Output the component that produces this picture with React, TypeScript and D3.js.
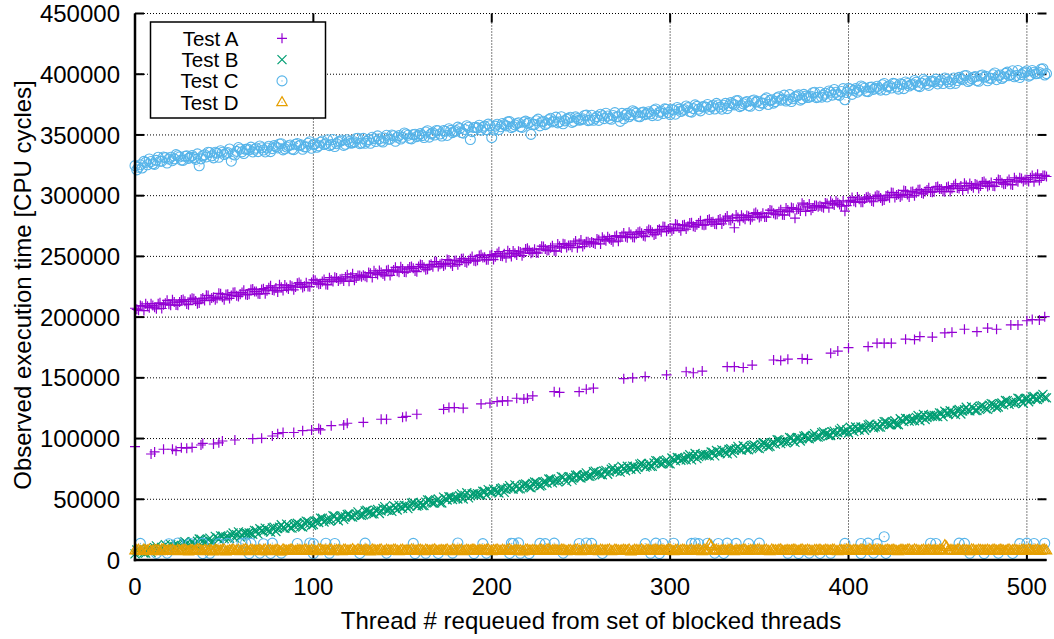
import React from "react";
import * as d3 from "d3";

const width = 1054,
  height = 639;
const plot = { left: 135, right: 1046.5, top: 13.5, bottom: 560 };
const font = "'Liberation Sans', Arial, Helvetica, sans-serif";

const seriesNames = ["Test A", "Test B", "Test C", "Test D"];
const seriesColors = ["#9400d3", "#009e73", "#56b4e9", "#e69f00"];
const xTicks = [0, 100, 200, 300, 400, 500];
const yTicks = [0, 50000, 100000, 150000, 200000, 250000, 300000, 350000, 400000, 450000];

// dense runs: even threads 0, 2 ... 510 and odd threads 1, 3 ... 511
const evenThreads = d3.range(0, 512, 2);
const oddThreads = d3.range(1, 512, 2);

// values below are in thousands of CPU cycles
const testAUpper = [
  207.3, 205.6, 209.0, 210.9, 207.8, 209.5, 206.8, 211.8, 210.2, 213.8, 209.8, 212.4, 209.8, 214.0, 213.0, 210.2,
  215.6, 213.2, 211.7, 215.7, 218.0, 213.8, 216.4, 215.5, 219.2, 214.2, 218.9, 217.7, 220.4, 217.0, 220.2, 218.6,
  218.8, 223.2, 221.1, 219.1, 223.4, 221.7, 225.8, 222.0, 220.7, 224.6, 226.4, 223.1, 225.5, 224.7, 228.5, 224.4,
  228.2, 225.1, 230.7, 228.3, 227.3, 231.0, 226.6, 230.6, 232.8, 229.7, 231.5, 233.1, 229.5, 235.7, 232.3, 234.3,
  234.5, 232.8, 236.2, 238.1, 235.0, 236.7, 234.0, 239.0, 237.4, 241.0, 237.0, 239.6, 237.0, 241.2, 240.2, 237.4,
  243.4, 241.0, 239.5, 243.5, 245.8, 241.6, 244.2, 243.3, 247.0, 242.0, 246.7, 245.5, 248.2, 244.8, 248.0, 246.4,
  246.9, 251.3, 249.2, 247.2, 251.5, 249.8, 253.9, 250.1, 248.8, 252.7, 254.5, 251.2, 253.6, 252.8, 256.6, 252.5,
  255.9, 252.8, 258.4, 256.0, 255.0, 258.7, 254.3, 258.3, 260.5, 257.4, 259.2, 260.8, 257.2, 263.4, 260.0, 262.0,
  261.9, 260.3, 263.8, 265.8, 262.8, 264.6, 262.0, 267.1, 265.6, 269.3, 265.4, 268.1, 265.6, 269.9, 269.0, 266.3,
  272.1, 269.8, 268.4, 272.3, 274.7, 270.6, 273.3, 272.5, 276.1, 271.2, 276.0, 274.9, 277.7, 274.2, 277.5, 276.0,
  276.1, 280.5, 278.5, 276.4, 280.8, 279.1, 283.2, 279.5, 273.6, 282.1, 283.9, 280.6, 283.1, 282.2, 286.1, 282.0,
  285.5, 282.4, 288.1, 285.6, 284.7, 288.4, 284.0, 288.1, 290.2, 281.5, 289.0, 293.8, 287.1, 293.2, 289.9, 291.9,
  291.8, 290.1, 293.6, 295.4, 292.4, 294.1, 291.4, 287.2, 294.8, 298.5, 294.5, 297.1, 294.6, 298.7, 297.8, 295.0,
  300.4, 298.0, 296.5, 300.4, 302.7, 298.5, 301.1, 300.2, 303.8, 298.8, 303.5, 302.3, 305.0, 301.5, 304.7, 303.1,
  303.3, 307.6, 305.5, 303.3, 307.5, 305.8, 309.8, 305.9, 304.4, 308.3, 310.0, 306.6, 309.0, 308.0, 311.7, 307.6,
  310.9, 307.7, 313.3, 310.7, 309.6, 313.3, 308.8, 312.7, 314.7, 311.6, 313.3, 314.8, 311.4, 317.7, 314.5, 316.7,
];
const testAUpperOdd = [
  206.4, 209.5, 205.4, 209.0, 211.1, 208.2, 211.1, 207.1, 211.5, 210.6, 214.2, 209.9, 212.4, 214.4, 210.8, 214.5,
  215.1, 211.1, 215.0, 213.6, 217.8, 215.8, 214.3, 219.6, 216.4, 218.6, 215.4, 220.2, 217.6, 218.9, 222.1, 218.3,
  222.7, 221.0, 219.2, 222.7, 219.3, 224.2, 222.3, 224.0, 226.6, 221.9, 224.4, 226.2, 222.5, 227.9, 226.8, 225.4,
  225.2, 228.4, 230.4, 227.1, 229.4, 226.9, 232.5, 229.3, 232.3, 231.2, 229.8, 234.9, 233.1, 230.4, 234.3, 233.3,
  233.6, 236.7, 232.6, 236.2, 238.3, 235.4, 238.3, 234.3, 238.7, 237.8, 241.4, 237.1, 239.6, 241.6, 238.0, 241.7,
  242.9, 238.9, 242.8, 241.4, 245.6, 243.6, 242.1, 247.4, 244.2, 246.4, 243.2, 248.0, 245.4, 246.7, 249.9, 246.1,
  250.8, 249.1, 247.3, 250.8, 247.4, 252.3, 250.4, 252.1, 254.7, 250.0, 252.5, 254.3, 250.6, 256.0, 254.9, 253.5,
  252.9, 256.1, 258.1, 254.8, 257.1, 254.6, 260.2, 257.0, 260.0, 258.9, 257.5, 262.6, 260.8, 258.1, 262.0, 261.0,
  261.1, 264.3, 260.3, 264.0, 266.2, 263.4, 266.4, 262.5, 267.0, 266.2, 269.9, 265.7, 268.3, 270.4, 266.9, 270.7,
  271.6, 267.7, 271.7, 270.2, 274.5, 272.6, 271.2, 276.6, 273.3, 275.6, 272.5, 277.4, 274.9, 276.1, 279.4, 275.7,
  280.0, 278.3, 276.6, 280.0, 276.7, 281.6, 279.7, 281.5, 284.0, 279.4, 281.9, 283.7, 280.1, 285.4, 284.4, 283.0,
  282.5, 285.7, 287.8, 284.4, 286.8, 284.3, 289.9, 286.8, 289.7, 288.7, 287.3, 292.4, 290.7, 287.9, 291.9, 290.9,
  290.9, 294.0, 290.0, 293.5, 295.7, 292.8, 295.7, 291.8, 296.1, 295.3, 298.9, 294.6, 297.2, 299.1, 295.6, 299.3,
  299.9, 295.9, 299.8, 298.3, 302.5, 300.5, 299.0, 304.3, 301.0, 303.2, 300.0, 304.8, 302.2, 303.4, 306.6, 302.8,
  307.2, 305.4, 303.6, 306.9, 303.4, 308.3, 306.3, 307.9, 310.3, 305.6, 308.0, 309.7, 306.0, 311.2, 310.0, 308.6,
  307.9, 311.0, 313.0, 309.5, 311.7, 309.2, 314.7, 311.4, 314.2, 313.1, 311.6, 316.6, 315.1, 312.5, 316.6, 315.8,
];

// [thread, kcycles]
const testALower = [
  [0, 93.3], [9, 87.3], [11, 89.0], [16, 91.2], [21, 91.2], [23, 90.0], [26, 92.5], [29, 92.0], [32, 92.7],
  [37, 94.7], [38, 96.0], [44, 95.5], [47, 96.5], [49, 98.0], [56, 98.8], [66, 99.9], [71, 100.2], [77, 102.1],
  [80, 104.0], [83, 105.0], [89, 105.0], [94, 106.5], [99, 107.0], [103, 108.3], [104, 107.2], [110, 110.6],
  [117, 111.2], [119, 112.6], [128, 113.4], [138, 115.9], [141, 115.9], [150, 117.5], [152, 118.2], [158, 120.0],
  [173, 124.1], [176, 125.5], [179, 125.5], [184, 125.0], [194, 128.5], [199, 129.1], [203, 130.4], [206, 131.0],
  [209, 131.0], [214, 133.2], [218, 132.5], [220, 133.2], [223, 135.1], [235, 138.6], [238, 138.0], [249, 138.6],
  [253, 140.6], [257, 141.5], [274, 149.3], [279, 150.0], [286, 151.0], [298, 152.4], [309, 155.0], [313, 154.2],
  [318, 155.6], [332, 159.2], [336, 159.2], [341, 158.5], [346, 160.5], [358, 164.7], [362, 164.2], [366, 165.4],
  [374, 165.8], [377, 165.2], [390, 170.3], [394, 172.0], [400, 174.8], [411, 175.7], [416, 178.5], [420, 178.5],
  [424, 178.5], [432, 181.8], [437, 181.5], [440, 184.0], [447, 183.6], [454, 187.0], [458, 187.5], [465, 190.0],
  [472, 188.0], [478, 191.0], [483, 190.0], [491, 193.6], [495, 193.6], [500, 197.0], [503, 198.0], [507, 197.7],
  [510, 200.4],
];

const testB = [
  5.0, 8.7, 7.2, 5.7, 9.3, 8.1, 11.6, 8.7, 7.8, 11.1, 12.7, 10.2, 12.3, 11.9, 15.1, 12.0,
  15.0, 12.7, 17.3, 15.5, 14.9, 18.0, 14.7, 18.1, 19.9, 17.6, 19.3, 20.7, 18.0, 23.2, 20.6, 22.4,
  22.3, 21.2, 24.1, 25.7, 23.4, 24.9, 22.9, 27.1, 25.9, 29.0, 26.0, 28.2, 26.3, 29.9, 29.3, 27.2,
  32.0, 30.2, 29.2, 32.5, 34.5, 31.3, 33.6, 33.1, 36.1, 32.3, 36.2, 35.5, 37.8, 35.3, 38.0, 36.9,
  37.3, 41.0, 39.5, 38.0, 41.6, 40.4, 43.9, 41.0, 40.1, 43.4, 45.0, 42.5, 44.6, 44.2, 47.4, 44.3,
  47.2, 44.9, 49.5, 47.7, 47.1, 50.2, 46.9, 50.3, 52.1, 49.8, 51.5, 52.9, 50.2, 55.4, 52.8, 54.6,
  54.6, 53.5, 56.4, 58.0, 55.7, 57.2, 55.2, 59.4, 58.2, 61.3, 58.3, 60.5, 58.6, 62.2, 61.6, 59.5,
  64.2, 62.4, 61.4, 64.7, 66.7, 63.5, 65.8, 65.3, 68.3, 64.5, 68.4, 67.7, 70.0, 67.5, 70.2, 69.1,
  69.5, 73.2, 71.7, 70.2, 73.8, 72.6, 76.1, 73.2, 72.3, 75.6, 77.2, 74.7, 76.8, 76.4, 79.6, 76.5,
  79.5, 77.2, 81.8, 80.0, 79.4, 82.5, 79.2, 82.6, 84.4, 82.1, 83.8, 85.2, 82.5, 87.7, 85.1, 86.9,
  86.8, 85.7, 88.6, 90.2, 87.9, 89.4, 87.4, 91.6, 90.4, 93.5, 90.5, 92.7, 90.8, 94.4, 93.8, 91.7,
  96.5, 94.7, 93.7, 97.0, 99.0, 95.8, 98.1, 97.6, 100.6, 96.8, 100.7, 100.0, 102.3, 99.8, 102.5, 101.4,
  101.8, 105.5, 104.0, 102.5, 106.1, 104.9, 108.4, 105.5, 104.6, 107.9, 109.5, 107.0, 109.1, 108.7, 111.9, 108.8,
  111.7, 109.4, 114.0, 112.2, 111.6, 114.7, 111.4, 114.8, 116.6, 114.3, 116.0, 117.4, 114.7, 119.9, 117.3, 119.1,
  119.1, 118.0, 120.9, 122.5, 120.2, 121.7, 119.7, 123.9, 122.7, 125.8, 122.8, 125.0, 123.1, 126.7, 126.1, 124.0,
  128.8, 127.0, 126.0, 129.3, 131.3, 128.1, 130.4, 129.9, 132.9, 129.1, 133.0, 132.3, 134.6, 132.1, 134.8, 133.7,
];
const testBOdd = [
  8.2, 7.0, 5.8, 8.7, 6.1, 10.2, 8.9, 10.4, 12.6, 9.0, 11.2, 12.8, 10.1, 14.5, 13.8, 12.8,
  12.6, 15.4, 17.1, 14.6, 16.6, 14.8, 19.5, 17.1, 19.6, 18.9, 17.9, 22.2, 20.9, 18.9, 22.3, 21.7,
  21.8, 24.4, 21.3, 24.3, 26.2, 24.0, 26.5, 23.5, 27.1, 26.6, 29.6, 26.4, 28.6, 30.3, 27.6, 30.7,
  31.6, 28.6, 31.9, 30.9, 34.4, 33.0, 32.0, 36.4, 33.9, 35.9, 33.5, 37.5, 35.6, 36.8, 39.6, 36.7,
  40.4, 39.2, 38.0, 40.9, 38.3, 42.4, 41.1, 42.6, 44.8, 41.2, 43.4, 45.0, 42.3, 46.8, 46.1, 45.1,
  44.9, 47.7, 49.4, 46.9, 48.9, 47.1, 51.8, 49.4, 51.9, 51.2, 50.2, 54.5, 53.2, 51.2, 54.5, 53.9,
  54.0, 56.6, 53.5, 56.5, 58.4, 56.2, 58.7, 55.7, 59.3, 58.8, 61.8, 58.6, 60.8, 62.6, 59.9, 63.0,
  63.9, 60.9, 64.2, 63.2, 66.7, 65.3, 64.3, 68.7, 66.2, 68.2, 65.8, 69.8, 67.9, 69.0, 71.8, 68.9,
  72.7, 71.5, 70.3, 73.2, 70.6, 74.7, 73.4, 74.9, 77.1, 73.5, 75.7, 77.3, 74.6, 79.0, 78.3, 77.3,
  77.1, 79.9, 81.6, 79.1, 81.1, 79.3, 84.0, 81.6, 84.1, 83.4, 82.4, 86.7, 85.4, 83.5, 86.8, 86.2,
  86.3, 88.9, 85.8, 88.8, 90.7, 88.5, 91.0, 88.0, 91.6, 91.1, 94.1, 90.9, 93.1, 94.8, 92.1, 95.2,
  96.1, 93.1, 96.4, 95.4, 98.9, 97.5, 96.5, 100.9, 98.4, 100.4, 98.0, 102.0, 100.1, 101.3, 104.1, 101.2,
  104.9, 103.7, 102.5, 105.4, 102.8, 106.9, 105.6, 107.1, 109.3, 105.7, 107.9, 109.5, 106.8, 111.3, 110.6, 109.6,
  109.4, 112.2, 113.9, 111.4, 113.4, 111.6, 116.3, 113.9, 116.4, 115.7, 114.7, 119.0, 117.7, 115.7, 119.0, 118.4,
  118.5, 121.1, 118.0, 121.0, 122.9, 120.7, 123.2, 120.2, 123.8, 123.3, 126.3, 123.1, 125.3, 127.1, 124.4, 127.5,
  128.4, 125.4, 128.7, 127.7, 131.2, 129.8, 128.8, 133.2, 130.7, 132.7, 130.3, 134.3, 132.4, 133.6, 136.4, 133.5,
];

const testCUpper = [
  324.7, 323.4, 322.8, 327.4, 330.2, 326.3, 329.1, 328.3, 331.9, 326.9, 331.6, 330.3, 332.9, 329.3, 332.4, 330.7,
  333.1, 329.9, 324.6, 332.9, 331.9, 335.5, 331.1, 335.0, 337.0, 333.9, 335.6, 328.4, 333.5, 339.6, 336.1, 338.1,
  337.8, 336.0, 339.2, 340.9, 337.6, 339.2, 336.3, 341.2, 339.3, 342.8, 338.6, 341.1, 338.3, 342.3, 341.1, 338.2,
  340.2, 344.4, 342.1, 339.9, 344.0, 342.1, 346.0, 342.0, 340.5, 344.2, 345.8, 342.3, 344.5, 343.5, 347.1, 342.8,
  347.2, 344.7, 343.1, 346.9, 349.2, 344.9, 347.4, 346.4, 349.9, 344.8, 349.4, 348.1, 350.8, 347.2, 350.3, 348.6,
  351.1, 347.9, 353.5, 350.9, 349.9, 353.5, 349.1, 353.0, 355.1, 351.9, 353.6, 355.2, 351.5, 357.6, 346.2, 356.1,
  355.8, 354.0, 357.3, 358.9, 347.8, 357.3, 354.5, 359.4, 357.5, 361.0, 356.9, 359.4, 356.7, 360.6, 359.5, 350.5,
  358.7, 363.0, 360.7, 358.5, 362.6, 360.8, 364.7, 360.8, 359.2, 363.0, 364.6, 361.2, 363.4, 362.4, 366.0, 361.8,
  366.2, 363.7, 362.0, 365.8, 367.9, 363.6, 366.0, 365.0, 361.2, 363.3, 367.8, 366.5, 369.0, 365.4, 368.4, 366.7,
  369.1, 365.9, 371.4, 368.7, 367.6, 371.2, 366.7, 370.6, 372.6, 369.3, 371.0, 372.5, 368.8, 374.8, 371.2, 373.1,
  372.8, 371.0, 374.3, 376.0, 372.9, 374.5, 371.7, 376.6, 374.8, 378.3, 374.2, 376.7, 374.1, 378.1, 377.0, 374.1,
  376.2, 380.5, 378.4, 376.2, 380.5, 378.7, 382.8, 378.9, 377.5, 381.3, 383.0, 379.7, 382.0, 381.1, 384.8, 380.7,
  385.2, 382.8, 381.3, 385.1, 387.4, 383.2, 385.8, 379.0, 388.4, 383.4, 388.1, 386.8, 389.5, 386.0, 389.2, 387.5,
  390.1, 386.9, 392.4, 389.7, 388.6, 392.2, 387.7, 391.6, 393.6, 390.3, 392.0, 393.5, 389.8, 395.8, 392.2, 394.1,
  393.8, 392.0, 395.3, 396.9, 393.7, 395.3, 392.5, 397.4, 395.5, 399.0, 394.9, 397.4, 394.7, 398.7, 397.5, 394.6,
  396.7, 401.0, 398.7, 396.5, 400.7, 398.8, 402.8, 398.9, 397.3, 401.1, 402.8, 399.3, 401.6, 400.6, 404.2, 399.4,
];
const testCUpperOdd = [
  321.2, 325.4, 328.2, 325.4, 328.1, 325.8, 331.6, 328.4, 331.3, 330.2, 328.8, 333.8, 331.9, 329.0, 332.8, 331.7,
  331.4, 334.4, 330.3, 333.7, 335.8, 332.8, 335.7, 331.6, 335.8, 334.9, 338.4, 334.1, 336.5, 338.4, 334.7, 338.4,
  340.0, 338.2, 336.3, 339.5, 336.0, 340.7, 338.7, 340.2, 342.6, 337.7, 340.1, 341.7, 337.9, 343.0, 341.8, 340.2,
  343.1, 339.0, 342.7, 341.0, 345.0, 342.8, 341.2, 346.3, 342.8, 344.8, 341.4, 346.1, 343.3, 344.3, 347.3, 343.4,
  343.1, 346.2, 348.1, 344.6, 346.8, 344.2, 349.7, 346.5, 349.3, 348.1, 346.6, 351.6, 349.7, 346.8, 350.6, 349.6,
  349.4, 352.4, 348.2, 351.7, 353.7, 350.8, 353.6, 349.6, 353.8, 352.8, 356.4, 352.0, 354.5, 356.3, 352.7, 356.3,
  358.0, 356.2, 354.3, 357.6, 354.1, 358.8, 356.8, 358.4, 360.8, 356.0, 358.3, 360.0, 356.2, 361.4, 360.2, 358.6,
  361.7, 357.5, 361.3, 359.6, 363.7, 361.5, 359.9, 365.0, 361.6, 363.6, 360.3, 364.9, 362.2, 363.2, 366.3, 362.3,
  362.1, 365.1, 367.0, 363.4, 365.6, 362.9, 368.4, 365.0, 367.8, 366.5, 365.0, 369.9, 368.0, 365.0, 368.8, 367.6,
  367.4, 370.3, 366.1, 369.5, 371.5, 368.5, 371.2, 367.1, 371.3, 370.3, 373.8, 369.3, 371.7, 373.5, 369.8, 373.4,
  375.1, 373.3, 371.4, 374.7, 371.2, 376.0, 374.0, 375.7, 378.1, 373.3, 375.7, 377.4, 373.6, 378.8, 377.7, 376.2,
  379.2, 375.1, 379.0, 377.4, 381.5, 379.5, 377.9, 383.2, 379.8, 382.0, 378.7, 383.4, 380.8, 381.9, 385.1, 381.2,
  381.1, 384.3, 386.2, 382.8, 385.1, 382.6, 388.1, 384.9, 387.8, 386.7, 385.2, 390.3, 388.5, 385.7, 389.5, 388.5,
  388.3, 391.3, 387.1, 390.5, 392.5, 389.5, 392.2, 388.1, 392.3, 391.3, 394.8, 390.4, 392.7, 394.5, 390.8, 394.4,
  396.0, 394.2, 392.3, 395.6, 392.1, 396.9, 394.8, 396.4, 398.8, 394.0, 396.4, 398.0, 394.2, 399.4, 398.2, 396.7,
  399.6, 395.5, 399.3, 397.6, 401.7, 399.6, 397.9, 403.1, 399.7, 401.8, 398.4, 403.1, 400.4, 401.4, 404.5, 400.5,
];

// [thread, kcycles]
const testCLower = [
  [3, 13.7], [19, 13.4], [24, 14.0], [31, 13.6], [38, 13.9], [47, 13.5], [52, 13.8], [60, 13.6], [62, 14.1],
  [65, 13.7], [72, 13.4], [77, 13.9], [91, 13.6], [98, 14.0], [100, 13.5], [107, 13.8], [112, 13.6], [129, 13.9],
  [156, 13.7], [181, 14.0], [195, 13.5], [211, 13.8], [212, 13.6], [215, 14.1], [227, 13.7], [230, 13.5],
  [235, 13.9], [249, 13.6], [253, 14.0], [256, 13.7], [286, 13.5], [292, 13.9], [296, 13.6], [302, 13.8],
  [312, 13.7], [314, 14.0], [316, 13.5], [321, 13.8], [327, 13.6], [332, 13.9], [337, 13.7], [344, 13.5],
  [350, 13.9], [398, 13.7], [407, 13.6], [411, 13.9], [416, 13.5], [420, 19.2], [446, 13.8], [449, 13.6],
  [462, 13.9], [465, 13.7], [496, 13.5], [500, 13.9], [504, 13.6], [510, 13.8],
  [12, 5.4], [18, 5.6], [38, 5.2], [42, 5.5], [64, 5.3], [70, 5.6], [76, 5.4], [82, 5.7], [100, 5.3],
  [109, 5.5], [126, 5.4], [141, 5.6], [157, 5.3], [163, 5.5], [170, 5.4], [178, 5.7], [190, 5.3], [197, 5.6],
  [210, 5.4], [216, 5.5], [221, 5.3], [240, 5.6], [262, 5.4], [289, 5.5], [294, 5.3], [325, 5.6], [330, 5.4],
  [366, 5.5], [372, 5.3], [378, 5.6], [384, 5.4], [390, 5.5], [407, 5.3], [414, 5.6], [421, 5.4], [468, 5.5],
  [476, 5.3], [484, 5.6], [492, 5.4],
];

const testD = [
  7.8, 8.4, 7.2, 7.9, 8.6, 7.5, 8.1, 7.3, 8.8, 7.6, 8.0, 7.4, 8.3, 7.7, 8.5, 7.1,
  8.2, 7.6, 8.7, 7.3, 7.9, 8.4, 7.0, 8.1, 7.8, 8.6, 7.4, 8.0, 7.5, 8.3, 7.7, 8.9,
  7.2, 8.1, 7.6, 8.5, 7.9, 7.3, 8.2, 7.7, 8.4, 7.1, 8.0, 7.8, 8.6, 7.4, 8.2, 7.5,
  8.3, 7.6, 8.0, 7.2, 8.7, 7.9, 7.4, 8.5, 7.7, 8.1, 7.3, 8.4, 7.8, 8.9, 7.5, 8.0,
  7.6, 8.4, 7.1, 8.2, 7.8, 8.6, 7.4, 8.0, 7.7, 8.3, 7.2, 8.5, 7.9, 7.5, 8.1, 7.6,
  8.4, 7.3, 8.0, 7.8, 8.7, 7.5, 8.2, 7.9, 7.4, 8.6, 7.7, 8.1, 7.2, 8.3, 7.8, 8.5,
  7.5, 8.2, 7.9, 8.6, 7.3, 8.0, 7.7, 8.4, 7.6, 8.8, 7.4, 8.1, 7.9, 7.2, 8.5, 7.8,
  8.0, 7.6, 8.3, 7.4, 8.7, 7.9, 8.1, 7.5, 8.4, 7.2, 8.2, 7.7, 8.6, 7.3, 8.0, 7.8,
  7.7, 8.5, 7.3, 8.1, 7.9, 8.6, 7.4, 8.2, 7.6, 8.3, 7.8, 7.1, 8.4, 7.9, 8.7, 7.5,
  8.1, 7.7, 8.5, 7.4, 8.0, 7.8, 8.6, 7.2, 8.3, 7.9, 8.1, 7.5, 8.4, 7.6, 8.2, 7.3,
  8.0, 13.0, 7.9, 8.4, 7.5, 8.2, 7.7, 8.6, 7.3, 8.0, 7.8, 8.5, 7.4, 8.1, 7.9, 8.3,
  7.6, 8.4, 7.2, 8.0, 7.8, 8.7, 7.5, 8.1, 7.9, 8.3, 7.4, 8.6, 7.7, 8.0, 7.3, 8.2,
  8.5, 7.6, 8.1, 7.8, 8.4, 7.2, 8.0, 7.9, 8.6, 7.5, 8.2, 7.7, 8.3, 7.4, 8.8, 7.9,
  7.7, 8.2, 7.5, 8.5, 7.9, 8.0, 7.3, 8.4, 7.8, 8.6, 7.6, 8.1, 7.4, 8.3, 7.9, 8.0,
  8.2, 7.6, 8.4, 12.2, 7.8, 8.1, 7.5, 8.6, 7.9, 8.0, 7.3, 8.5, 7.7, 8.2, 7.9, 8.4,
  7.6, 8.3, 7.8, 8.1, 7.4, 8.6, 7.9, 8.0, 7.5, 8.4, 7.7, 8.2, 7.9, 8.5, 7.6, 8.3,
];
const testDOdd = [
  8.1, 7.4, 8.6, 7.7, 7.2, 8.3, 7.9, 8.7, 7.5, 8.0, 8.5, 7.3, 7.8, 8.4, 7.6, 8.2,
  7.5, 8.8, 7.9, 8.2, 7.4, 7.7, 8.5, 7.6, 8.3, 7.1, 8.0, 8.6, 7.8, 7.3, 8.4, 7.7,
  8.4, 7.7, 8.0, 7.3, 8.6, 8.2, 7.5, 8.1, 7.2, 8.7, 7.6, 8.3, 7.4, 8.0, 7.9, 8.5,
  7.6, 8.3, 7.4, 8.8, 7.7, 8.1, 8.6, 7.3, 8.2, 7.8, 8.5, 7.5, 8.0, 7.4, 8.7, 7.9,
  8.3, 7.5, 8.6, 7.8, 8.1, 7.3, 8.4, 7.7, 8.5, 7.6, 8.2, 7.4, 8.0, 8.6, 7.7, 8.3,
  7.9, 8.5, 7.6, 8.2, 7.4, 8.0, 7.8, 8.6, 7.3, 8.1, 7.9, 8.4, 7.7, 8.0, 8.5, 7.5,
  8.2, 7.7, 8.4, 7.5, 8.1, 8.6, 7.4, 7.9, 8.3, 7.6, 8.2, 7.8, 7.3, 8.5, 7.7, 8.1,
  7.6, 8.3, 7.8, 8.6, 7.4, 8.2, 7.7, 8.5, 7.9, 8.0, 7.5, 8.4, 7.6, 8.1, 8.7, 7.5,
  8.2, 7.6, 8.4, 7.8, 8.1, 7.3, 8.5, 7.7, 8.0, 7.9, 8.6, 7.4, 8.2, 7.8, 7.5, 8.3,
  7.6, 8.4, 7.9, 8.1, 7.5, 8.7, 7.7, 8.2, 7.4, 8.5, 7.8, 8.0, 7.6, 8.3, 7.9, 8.6,
  7.7, 11.4, 8.3, 7.6, 8.0, 7.8, 8.4, 7.5, 8.2, 7.9, 8.6, 7.4, 8.1, 7.7, 8.5, 7.8,
  8.2, 7.5, 8.6, 7.9, 8.3, 7.4, 8.0, 7.7, 8.5, 7.6, 8.2, 7.8, 8.4, 7.5, 8.1, 7.9,
  7.6, 8.3, 7.8, 8.5, 7.4, 8.1, 7.9, 8.6, 7.7, 8.2, 7.5, 8.4, 7.8, 8.0, 7.6, 8.3,
  8.4, 7.6, 8.1, 7.8, 8.5, 7.4, 8.2, 7.9, 8.3, 7.5, 8.6, 7.7, 8.0, 7.8, 8.4, 7.6,
  7.9, 8.4, 7.6, 10.8, 8.2, 7.7, 8.5, 7.4, 8.1, 7.8, 8.6, 7.5, 8.3, 7.9, 8.0, 7.7,
  8.3, 7.6, 8.5, 7.8, 8.2, 7.5, 8.4, 7.7, 8.1, 7.9, 8.6, 7.6, 8.2, 7.4, 8.5, 7.8,
];

const onThreads = (threads, vals) => vals.map((v, i) => [threads[i], v * 1000]);
const sparse = (pairs) => pairs.map(([t, v]) => [t, v * 1000]);

const seriesPoints = [
  onThreads(evenThreads, testAUpper).concat(onThreads(oddThreads, testAUpperOdd), sparse(testALower)),
  onThreads(evenThreads, testB).concat(onThreads(oddThreads, testBOdd)),
  onThreads(evenThreads, testCUpper).concat(onThreads(oddThreads, testCUpperOdd), sparse(testCLower)),
  onThreads(evenThreads, testD).concat(onThreads(oddThreads, testDOdd)),
];

const markerPaths = [
  "M-5,0H5M0,-5V5",
  "M-4.5,-4.5L4.5,4.5M-4.5,4.5L4.5,-4.5",
  null,
  "M0,-5.6L5.2,3.4L-5.2,3.4Z",
];

function Marker({ kind, x, y }) {
  const color = seriesColors[kind];
  if (kind === 2) {
    return (
      <g transform={`translate(${x},${y})`}>
        <circle r={5} fill="none" stroke={color} strokeWidth={1.1} />
        <circle r={0.6} fill={color} />
      </g>
    );
  }
  return (
    <g transform={`translate(${x},${y})`}>
      <path d={markerPaths[kind]} fill="none" stroke={color} strokeWidth={1.2} />
      {kind === 3 && <circle r={0.6} fill={color} />}
    </g>
  );
}

export default function App() {
  const x = d3.scaleLinear().domain([0, 511]).range([plot.left, plot.right]);
  const y = d3.scaleLinear().domain([0, 450000]).range([plot.bottom, plot.top]);
  const tickLen = 9;

  return (
    <svg
      width={width}
      height={height}
      style={{ position: "absolute", left: 0, top: 0, background: "#fff" }}
      fontFamily={font}
    >
      <rect width={width} height={height} fill="#fff" />

      {/* grid */}
      <g stroke="#000" strokeWidth={1} strokeDasharray="1,2">
        {yTicks.filter(t => t > 0).map(t => (
          <line key={"gy" + t} x1={plot.left} x2={plot.right} y1={y(t)} y2={y(t)} />
        ))}
        {xTicks.filter(t => t > 0).map(t => (
          <line key={"gx" + t} x1={x(t)} x2={x(t)} y1={plot.top} y2={plot.bottom} />
        ))}
      </g>

      {/* ticks, mirrored on top and right */}
      <g stroke="#000" strokeWidth={2}>
        {yTicks.map(t => (
          <g key={"ty" + t}>
            <line x1={plot.left} x2={plot.left + tickLen} y1={y(t)} y2={y(t)} />
            <line x1={plot.right - tickLen} x2={plot.right} y1={y(t)} y2={y(t)} />
          </g>
        ))}
        {xTicks.map(t => (
          <g key={"tx" + t}>
            <line x1={x(t)} x2={x(t)} y1={plot.bottom} y2={plot.bottom - tickLen} />
            <line x1={x(t)} x2={x(t)} y1={plot.top} y2={plot.top + tickLen} />
          </g>
        ))}
      </g>

      {/* points */}
      {seriesPoints.map((pts, k) => (
        <g key={seriesNames[k]}>
          {pts.map((p, i) => (
            <Marker key={i} kind={k} x={x(p[0])} y={y(p[1])} />
          ))}
        </g>
      ))}

      {/* axes */}
      <line x1={plot.left} x2={plot.left} y1={plot.top} y2={plot.bottom + 1.2} stroke="#000" strokeWidth={2.5} />
      <line x1={plot.left - 1.2} x2={plot.right} y1={plot.bottom} y2={plot.bottom} stroke="#000" strokeWidth={2.5} />

      {/* tick labels */}
      <g fontSize={24} fill="#000">
        {yTicks.map(t => (
          <text key={"ly" + t} x={120} y={y(t)} dy="0.36em" textAnchor="end">
            {t}
          </text>
        ))}
        {xTicks.map(t => (
          <text key={"lx" + t} x={x(t)} y={595} textAnchor="middle">
            {t}
          </text>
        ))}
        <text x={591} y={629} textAnchor="middle">
          Thread # requeued from set of blocked threads
        </text>
        <text transform="translate(31,285) rotate(-90)" textAnchor="middle">
          Observed execution time [CPU cycles]
        </text>
      </g>

      {/* legend */}
      <g>
        <rect x={150.5} y={22} width={175} height={96} fill="#fff" stroke="#000" strokeWidth={1.5} />
        {seriesNames.map((name, k) => (
          <g key={"lg" + name}>
            <text x={238.5} y={38.3 + k * 21.3} dy="0.36em" textAnchor="end" fontSize={20.5} fill="#000">
              {name}
            </text>
            <Marker kind={k} x={282} y={38.3 + k * 21.3} />
          </g>
        ))}
      </g>
    </svg>
  );
}
